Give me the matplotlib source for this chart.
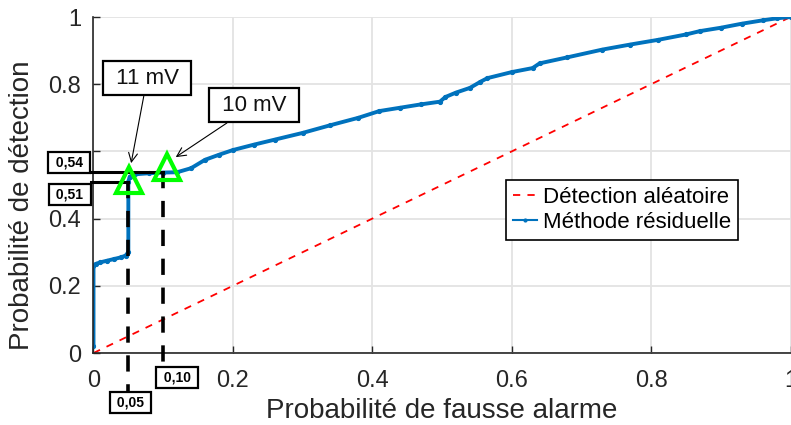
import numpy as np
import matplotlib
matplotlib.use("Agg")
from matplotlib import pyplot as plt

# ROC curve of the residual method
pfa = [0.0, 0.0, 0.003, 0.01, 0.02, 0.03, 0.04, 0.046, 0.05, 0.05, 0.052,
       0.06, 0.08, 0.10, 0.12, 0.14, 0.16, 0.18, 0.20, 0.23, 0.26, 0.30,
       0.34, 0.38, 0.41, 0.44, 0.47, 0.497, 0.505, 0.52, 0.54, 0.555, 0.565,
       0.60, 0.63, 0.64, 0.68, 0.73, 0.77, 0.81, 0.85, 0.87, 0.90, 0.93,
       0.96, 0.98, 1.0]
pd_res = [0.02, 0.26, 0.265, 0.27, 0.275, 0.28, 0.285, 0.29, 0.30, 0.51,
          0.525, 0.532, 0.535, 0.537, 0.538, 0.55, 0.575, 0.59, 0.604, 0.62,
          0.635, 0.655, 0.678, 0.70, 0.72, 0.73, 0.74, 0.748, 0.762, 0.775,
          0.789, 0.807, 0.818, 0.836, 0.848, 0.862, 0.88, 0.903, 0.918, 0.932,
          0.948, 0.958, 0.968, 0.98, 0.99, 0.996, 1.0]

rand_x = [0.0, 1.0]
rand_y = [0.0, 1.0]

# operating points (11 mV, 10 mV)
op_x = [0.05, 0.10]
op_y = [0.51, 0.54]
op_labels = ["11 mV", "10 mV"]
op_marker_x = [0.051, 0.105]
op_marker_y = [0.515, 0.555]

ticks = [0, 0.2, 0.4, 0.6, 0.8, 1]
xtick_labels = ["0", "0.2", "0.4", "0.6", "0.8", "1"]
# 0.6 is hidden under the "0,54" box in the original
ytick_labels = ["0", "0.2", "0.4", "", "0.8", "1"]

BLUE = "#0072BD"
DARK = "#262626"

plt.rcParams['font.family'] = ['Liberation Sans', 'DejaVu Sans']

fig = plt.figure(figsize=(7.91, 4.25), dpi=100)
ax = fig.add_axes([0.1182, 0.1694, 0.8812, 0.7906])

ax.plot(rand_x, rand_y, color="red", lw=1.3, ls=(0, (4, 4)),
        label="Détection aléatoire")
ax.plot(pfa, pd_res, color=BLUE, lw=2.8, marker=".", ms=5.5,
        label="Méthode résiduelle")

# guide lines to the operating points
for x, y in zip(op_x, op_y):
    ax.plot([-0.004, x], [y, y], color="black", lw=2.2, clip_on=False,
            zorder=4)
ax.plot([op_x[0], op_x[0]], [op_y[0], -0.116], color="black", lw=2.6,
        ls=(0, (4.5, 3.5)), clip_on=False, zorder=4)
ax.plot([op_x[1], op_x[1]], [op_y[1], -0.04], color="black", lw=2.6,
        ls=(0, (4.5, 3.5)), clip_on=False, zorder=4)

ax.plot(op_marker_x, op_marker_y, ls="none", marker="^", ms=19, mfc="none",
        mec="#00FF00", mew=3, zorder=5)

small_box = dict(boxstyle="square,pad=0.25", fc="white", ec="black", lw=1.6)
small_kw = dict(ha="center", va="center", fontsize=10, fontweight="bold",
                bbox=small_box, clip_on=False, zorder=6)
ax.text(-0.035, 0.568, " 0,54 ", **small_kw)
ax.text(-0.034, 0.472, " 0,51 ", **small_kw)
ax.text(0.12, -0.073, " 0,10 ", **small_kw)
ax.text(0.053, -0.147, " 0,05 ", **small_kw)

big_box = dict(boxstyle="square,pad=0.3", fc="white", ec="black", lw=1.6)
arrow = dict(arrowstyle="->", color="black", lw=0.8, shrinkA=0, shrinkB=0)
ax.annotate(" " + op_labels[0] + " ", xy=(0.054, 0.565),
            xytext=(0.077, 0.818), ha="center", va="center", fontsize=16,
            color="#111111", bbox=big_box, arrowprops=arrow, zorder=6)
ax.annotate(" " + op_labels[1] + " ", xy=(0.118, 0.583),
            xytext=(0.23, 0.738), ha="center", va="center", fontsize=16,
            color="#111111", bbox=big_box, arrowprops=arrow, zorder=6)

ax.set_xlim(0, 1)
ax.set_ylim(0, 1)
ax.set_xticks(ticks)
ax.set_xticklabels(xtick_labels)
ax.set_yticks(ticks)
ax.set_yticklabels(ytick_labels)
ax.tick_params(direction="in", length=5, width=1, colors=DARK,
               labelsize=17)
ax.tick_params(axis="x", pad=12)
ax.tick_params(axis="y", pad=9)
ax.grid(True, color="#e3e3e3", lw=1.3)
ax.set_axisbelow(True)
for s in ["top", "right"]:
    ax.spines[s].set_visible(False)
for s in ["left", "bottom"]:
    ax.spines[s].set_color(DARK)
    ax.spines[s].set_linewidth(1.2)

ax.set_xlabel("Probabilité de fausse alarme", fontsize=20, color=DARK,
              va="center")
ax.xaxis.set_label_coords(0.5, -0.172)
ax.set_ylabel("Probabilité de détection", fontsize=20, color=DARK,
              va="center")
ax.yaxis.set_label_coords(-0.103, 0.44)

leg = ax.legend(loc="upper left", bbox_to_anchor=(0.592, 0.515),
                borderaxespad=0, fontsize=16, handlelength=1.1,
                handletextpad=0.25, borderpad=0.3, labelspacing=0.2,
                fancybox=False, framealpha=1, edgecolor="black")
leg.get_frame().set_linewidth(1.2)
leg.get_lines()[1].set_linewidth(1.5)
leg.get_lines()[1].set_markersize(4)

fig.savefig("out.png", dpi=100)
